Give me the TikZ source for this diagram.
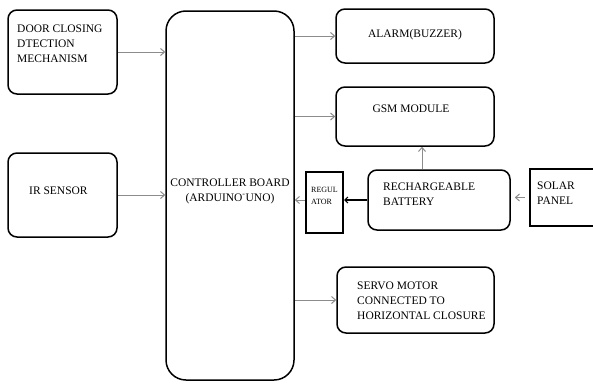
\documentclass[tikz,border=0pt]{standalone}
\usepackage{fontspec}
\setmainfont{Liberation Serif}
\usetikzlibrary{arrows.meta}
\begin{document}
\begin{tikzpicture}[x=1pt,y=-1pt,
  rbox/.style={draw=black, line width=1.5pt, rounded corners=9pt, inner sep=0pt},
  sbox/.style={draw=black, line width=2.4pt, inner sep=0pt},
  txt/.style={font=\fontsize{11.5}{15}\selectfont, align=left, inner sep=0pt, anchor=west},
  smalltxt/.style={font=\fontsize{8}{12}\selectfont, align=left, inner sep=0pt, anchor=west},
  conn/.style={draw=black!45, line width=1pt, -{Straight Barb[length=4pt,width=7pt]}},
  thickconn/.style={draw=black, line width=2.2pt, -{Straight Barb[length=3pt,width=6pt,line width=1pt]}}
]
\useasboundingbox (0,0) rectangle (593,383);
\clip (0,0) rectangle (593,383);
\fill[white] (0,0) rectangle (593,383);

% boxes
\node[rbox, minimum width=109pt, minimum height=84pt] (door) at (62.5,52) {};
\node[rbox, minimum width=109pt, minimum height=84pt] (ir) at (62.5,195) {};
\node[rbox, rounded corners=20pt, minimum width=128pt, minimum height=369pt] (ctrl) at (230,195.5) {};
\node[rbox, minimum width=158pt, minimum height=54pt] (alarm) at (415,36) {};
\node[rbox, minimum width=158pt, minimum height=59pt] (gsm) at (415,116.5) {};
\node[rbox, minimum width=142pt, minimum height=60pt] (batt) at (439,200) {};
\node[sbox, minimum width=37pt, minimum height=61pt] (reg) at (324.5,202.5) {};
\node[sbox, minimum width=70pt, minimum height=57pt] (solar) at (565,197.5) {};
\node[rbox, minimum width=157pt, minimum height=66pt] (servo) at (415.5,300) {};

% texts
\node[txt] (doort) at (17,44) {DOOR CLOSING\\DTECTION\\MECHANISM};
\node[txt] (irt) at (29,191) {IR SENSOR};
\node[txt, align=center, anchor=center] (ctrlt) at (230,191) {CONTROLLER BOARD\\(ARDUINO\textsuperscript{-}UNO)};
\node[txt, anchor=center] (alarmt) at (415,35) {ALARM(BUZZER)};
\node[txt, anchor=center] (gsmt) at (411,109) {GSM MODULE};
\node[txt] (battt) at (383,194) {RECHARGEABLE\\BATTERY};
\node[smalltxt] (regt) at (311,196) {REGUL\\ATOR};
\node[txt] (solart) at (537,193) {SOLAR\\PANEL};
\node[txt] (servot) at (357,301) {SERVO MOTOR\\CONNECTED TO\\HORIZONTAL CLOSURE};

% connectors
\draw[conn] (door.east) -- (door.east -| ctrl.west);
\draw[conn] (ir.east) -- (ir.east -| ctrl.west);
\draw[conn] (alarm.west -| ctrl.east) -- (alarm.west);
\draw[conn] (gsm.west -| ctrl.east) -- (gsm.west);
\draw[conn] (servo.west -| ctrl.east) -- (servo.west);
\draw[conn] ([xshift=-17pt]batt.north) -- ([xshift=-17pt]batt.north |- gsm.south);
\draw[thickconn] (batt.west) -- (batt.west -| reg.east);
\draw[conn] (reg.west |- batt.west) -- (batt.west -| ctrl.east);
\draw[conn] ([xshift=-4pt]solar.west) -- ([xshift=4pt]solar.west -| batt.east);
\end{tikzpicture}
\end{document}
